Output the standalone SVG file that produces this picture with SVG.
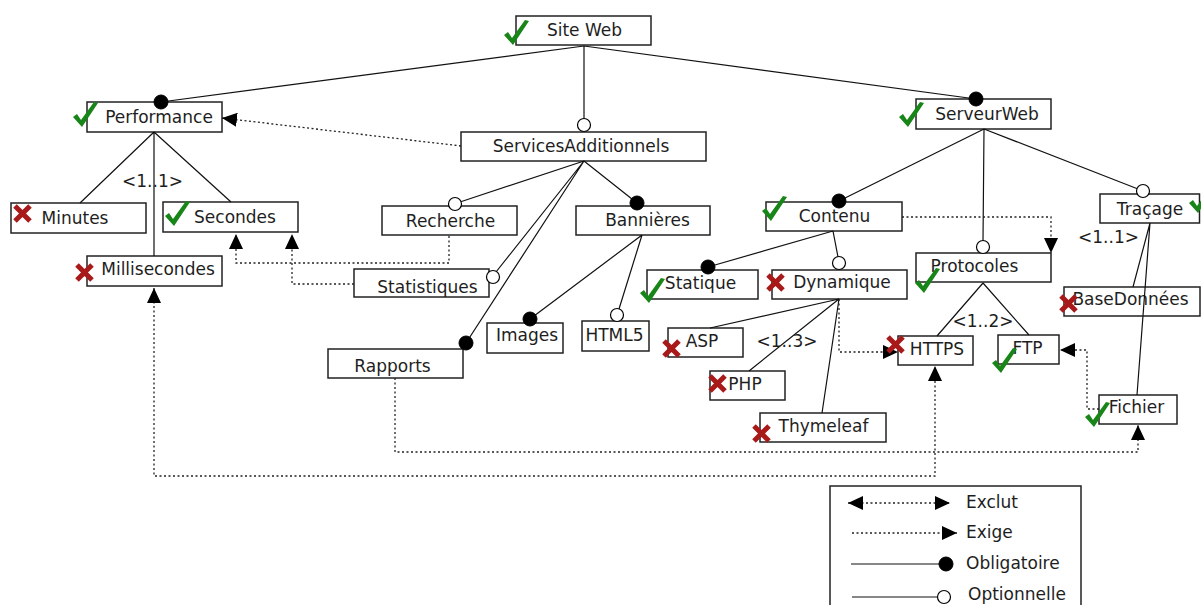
<svg xmlns="http://www.w3.org/2000/svg" width="1201" height="605" viewBox="0 0 1201 605">
<style>
.box{fill:#fff;stroke:#222;stroke-width:1.5}
.t{font-family:"DejaVu Sans",sans-serif;font-size:17px;fill:#1e1e1e;text-anchor:middle}
.tl{font-family:"DejaVu Sans",sans-serif;font-size:17px;fill:#1e1e1e}
.ln{stroke:#111;stroke-width:1.2;fill:none}
.dot{stroke:#222;stroke-width:1.3;stroke-dasharray:2 2.5;fill:none}
.req{stroke:#222;stroke-width:1.3;stroke-dasharray:2 2.5;fill:none;marker-end:url(#arr)}
.exc{stroke:#222;stroke-width:1.3;stroke-dasharray:2 2.5;fill:none;marker-end:url(#arr);marker-start:url(#arr)}
.fc{fill:#000;stroke:#000;stroke-width:1}
.oc{fill:#fff;stroke:#000;stroke-width:1.2}
</style>
<defs>
<marker id="arr" viewBox="0 0 15 14" refX="15" refY="7" markerWidth="15" markerHeight="14" markerUnits="userSpaceOnUse" orient="auto-start-reverse">
<path d="M0,0 L15,7 L0,14 z" fill="#000"/>
</marker>
<g id="ck"><polygon points="0,15 4,12 8,18 21,0 25,1 9,25" fill="#178517"/></g>
<g id="cx"><path d="M3,3 L18,18 M18,3 L3,18" stroke="#a81a1a" stroke-width="5" fill="none"/></g>
</defs>

<g id="nodes">
<g id="n-siteweb"><rect class="box" x="516" y="16" width="135" height="29"/><text class="t" x="584.5" y="36">Site Web</text><use href="#ck" x="504" y="20"/></g>
<g id="n-performance"><rect class="box" x="87" y="102" width="135" height="30"/><text class="t" x="159" y="123">Performance</text><use href="#ck" x="73" y="102"/></g>
<g id="n-services"><rect class="box" x="461" y="132" width="245" height="29"/><text class="t" x="581" y="152">ServicesAdditionnels</text></g>
<g id="n-serveurweb"><rect class="box" x="916" y="99" width="135" height="30"/><text class="t" x="987" y="120">ServeurWeb</text><use href="#ck" x="899" y="102"/></g>
<g id="n-minutes"><rect class="box" x="11" y="203" width="135" height="30"/><text class="t" x="75" y="223.5">Minutes</text><use href="#cx" x="12" y="203"/></g>
<g id="n-secondes"><rect class="box" x="163" y="202" width="135" height="30"/><text class="t" x="235" y="223">Secondes</text><use href="#ck" x="165" y="201"/></g>
<g id="n-millisecondes"><rect class="box" x="87" y="256" width="135" height="30"/><text class="t" x="158" y="275">Millisecondes</text><use href="#cx" x="74" y="262"/></g>
<g id="n-recherche"><rect class="box" x="382" y="206" width="135" height="29"/><text class="t" x="450.5" y="227">Recherche</text></g>
<g id="n-statistiques"><rect class="box" x="354" y="269" width="135" height="28"/><text class="t" x="427.5" y="293">Statistiques</text></g>
<g id="n-rapports"><rect class="box" x="328" y="349" width="135" height="29"/><text class="t" x="392.5" y="372">Rapports</text></g>
<g id="n-bannieres"><rect class="box" x="576" y="206" width="134" height="29"/><text class="t" x="647.5" y="226">Bannières</text></g>
<g id="n-images"><rect class="box" x="487" y="323" width="76" height="30"/><text class="t" x="527" y="341">Images</text></g>
<g id="n-html5"><rect class="box" x="582" y="321" width="67" height="30"/><text class="t" x="614.5" y="341">HTML5</text></g>
<g id="n-contenu"><rect class="box" x="766" y="202" width="136" height="29"/><text class="t" x="834.5" y="222">Contenu</text><use href="#ck" x="762" y="196"/></g>
<g id="n-statique"><rect class="box" x="647" y="270" width="111" height="29"/><text class="t" x="700.5" y="289">Statique</text><use href="#ck" x="640" y="278"/></g>
<g id="n-dynamique"><rect class="box" x="772" y="270" width="135" height="29"/><text class="t" x="842" y="288">Dynamique</text><use href="#cx" x="765" y="272"/></g>
<g id="n-asp"><rect class="box" x="668" y="328" width="75" height="29"/><text class="t" x="702" y="347">ASP</text><use href="#cx" x="661" y="338"/></g>
<g id="n-php"><rect class="box" x="710" y="371" width="75" height="29"/><text class="t" x="745" y="390">PHP</text><use href="#cx" x="707" y="373"/></g>
<g id="n-thymeleaf"><rect class="box" x="760" y="413" width="126" height="29"/><text class="t" x="823.5" y="432">Thymeleaf</text><use href="#cx" x="751" y="423"/></g>
<g id="n-protocoles"><rect class="box" x="916" y="253" width="135" height="29"/><text class="t" x="974.5" y="272">Protocoles</text><use href="#ck" x="915" y="268"/></g>
<g id="n-https"><rect class="box" x="898" y="336" width="75" height="29"/><text class="t" x="937" y="355">HTTPS</text></g>
<g id="n-ftp"><rect class="box" x="998" y="335" width="61" height="29"/><text class="t" x="1027.5" y="354">FTP</text><use href="#ck" x="992" y="348"/></g>
<g id="n-tracage"><rect class="box" x="1100" y="194" width="99.5" height="29"/><text class="t" x="1150" y="215">Traçage</text><use href="#ck" x="1189" y="188"/></g>
<g id="n-basedonnees"><rect class="box" x="1064" y="287" width="136" height="29" style="fill:none"/><text class="t" x="1130.5" y="305">BaseDonnées</text><use href="#cx" x="1058" y="293"/></g>
<g id="n-fichier"><rect class="box" x="1099" y="395" width="78" height="29"/><text class="t" x="1136.5" y="413">Fichier</text></g>
</g>

<g id="connectors">
<path class="ln" d="M584,46 L161,102 M584,46 L584,119 M584,46 L976,99"/>
<path class="ln" d="M154,132 L80,203 M154,132 L231,202 M154,132 L154,256"/>
<path class="ln" d="M584,161 L460,202 M584,161 L637,203 M584,161 L496,272 M584,161 L466,343"/>
<path class="ln" d="M642,235 L530,319 M642,235 L619,309"/>
<path class="ln" d="M984,129 L839,201 M984,129 L983,241 M984,129 L1138,189"/>
<path class="ln" d="M833,231 L708,267 M833,231 L838,257"/>
<path class="ln" d="M839,299 L710,328 M839,299 L749,371 M839,299 L822,413"/>
<path class="ln" d="M983,283 L937,336 M983,283 L1029,335"/>
<path class="ln" d="M1150,223 L1133,287 M1150,223 L1137,395"/>
<circle class="fc" cx="161" cy="102" r="7"/>
<circle class="oc" cx="584" cy="125" r="6.5"/>
<circle class="fc" cx="976" cy="99" r="7"/>
<circle class="oc" cx="455" cy="204" r="6.5"/>
<circle class="fc" cx="637" cy="203" r="7"/>
<circle class="oc" cx="493" cy="277" r="6.5"/>
<circle class="fc" cx="466" cy="343" r="7"/>
<circle class="fc" cx="530" cy="319" r="7"/>
<circle class="oc" cx="617" cy="315" r="6.5"/>
<circle class="fc" cx="839" cy="201" r="7"/>
<circle class="oc" cx="983" cy="247" r="6.5"/>
<circle class="oc" cx="1143" cy="191" r="6.5"/>
<circle class="fc" cx="708" cy="267" r="7"/>
<circle class="oc" cx="839" cy="263" r="6.5"/>
<text class="t" x="152.5" y="187">&lt;1..1&gt;</text>
<text class="t" x="787" y="347">&lt;1..3&gt;</text>
<text class="t" x="983" y="327">&lt;1..2&gt;</text>
<text class="t" x="1108.5" y="243">&lt;1..1&gt;</text>
<path class="req" d="M461,146 L222,118"/>
<path class="req" d="M449,236 V263 H236 V234"/>
<path class="req" d="M354,284 H292 V234"/>
<path class="exc" d="M154,288 V476 H935 V366"/>
<path class="req" d="M395,378 V452 H1138 V425"/>
<path class="req" d="M839,299 V352 H898"/>
<path class="req" d="M902,217 H1051 V253"/>
<path class="req" d="M1099,409 H1087 V350 H1060"/>
<use href="#cx" x="885" y="334"/>
<use href="#ck" x="1085" y="402"/>
</g>

<g id="legend">
<rect class="box" x="830" y="486" width="251" height="125"/>
<path class="exc" d="M848,503 H950"/>
<path class="req" d="M852,533 H957"/>
<path class="ln" d="M851,564 H940"/>
<circle class="fc" cx="946" cy="564" r="7"/>
<path class="ln" d="M852,597 H937"/>
<circle class="oc" cx="944" cy="597" r="6.5"/>
<text class="tl" x="966" y="508">Exclut</text>
<text class="tl" x="966" y="538">Exige</text>
<text class="tl" x="966" y="569">Obligatoire</text>
<text class="tl" x="968" y="600">Optionnelle</text>
</g>
</svg>
